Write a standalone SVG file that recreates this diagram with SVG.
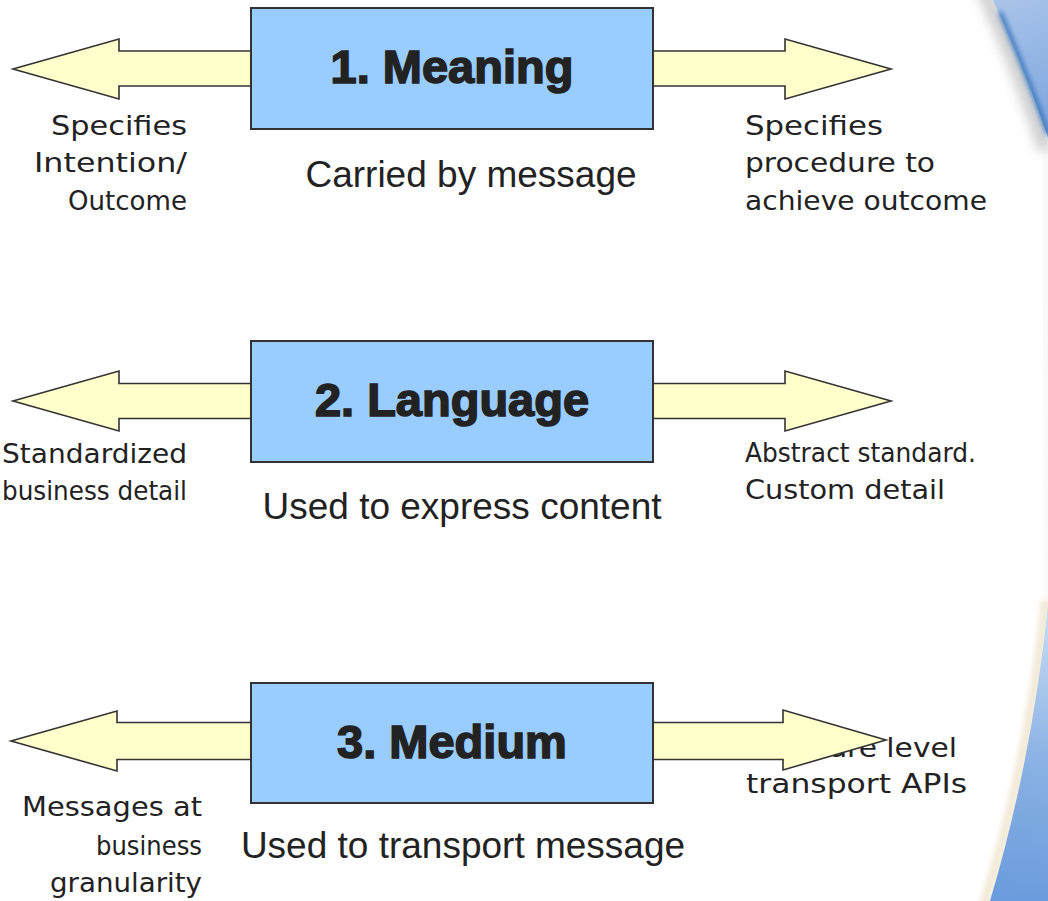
<svg xmlns="http://www.w3.org/2000/svg" width="1048" height="901" viewBox="0 0 1048 901">
  <defs>
    <style>
      .box { fill: #99CCFF; stroke: #333333; stroke-width: 2; }
      .arrow { fill: #FFFFCC; stroke: #333333; stroke-width: 1.6; stroke-linejoin: miter; }
      .title { font-family: "Liberation Sans", Arial, sans-serif; font-weight: bold; font-size: 47px; fill: #222222; stroke: #222222; stroke-width: 1.6; text-anchor: middle; }
      .sub { font-family: "Liberation Sans", Arial, sans-serif; font-size: 37px; fill: #222222; text-anchor: middle; }
      .note { font-family: "Comic Sans MS", "DejaVu Sans", sans-serif; font-size: 27px; fill: #222222; }
      .r { text-anchor: end; }
    </style>
    <linearGradient id="topBlue" x1="995" y1="0" x2="1048" y2="140" gradientUnits="userSpaceOnUse">
      <stop offset="0" stop-color="#a9c4ea"/>
      <stop offset="1" stop-color="#7aa3dc"/>
    </linearGradient>
    <linearGradient id="bottomBlue" x1="1040" y1="620" x2="1010" y2="901" gradientUnits="userSpaceOnUse">
      <stop offset="0" stop-color="#c4d9f2"/>
      <stop offset="0.5" stop-color="#8ab2e4"/>
      <stop offset="1" stop-color="#6a9bdc"/>
    </linearGradient>
    <filter id="soft" x="-50%" y="-50%" width="200%" height="200%">
      <feGaussianBlur stdDeviation="6"/>
    </filter>
    <filter id="softer" x="-50%" y="-50%" width="200%" height="200%">
      <feGaussianBlur stdDeviation="2.5"/>
    </filter>
  </defs>

  <rect width="1048" height="901" fill="#ffffff"/>

  <!-- right-hand swoosh of the slide background -->
  <g id="backdrop">
    <path d="M 984,-10 Q 1020,70 1046,150" fill="none" stroke="#8a8a8a" stroke-width="14" opacity="0.45" filter="url(#soft)"/>
    <path d="M 1046,150 L 1052,600" fill="none" stroke="#bbbbbb" stroke-width="6" opacity="0.25" filter="url(#soft)"/>
    <path d="M 993,0 Q 1027,75 1048,138 L 1048,0 Z" fill="url(#topBlue)"/>
    <path d="M 1000,12 Q 1028,78 1048,134" fill="none" stroke="#2f6db5" stroke-width="4" filter="url(#softer)"/>
    <path d="M 1046,600 Q 1030,760 984,905" fill="none" stroke="#f3ead8" stroke-width="10" filter="url(#softer)"/>
    <path d="M 1048,605 Q 1032,760 990,901 L 1048,901 Z" fill="url(#bottomBlue)"/>
  </g>

  <!-- text partly covered by the arrow of node 3 -->
  <text class="note" x="746" y="757" textLength="211" lengthAdjust="spacingAndGlyphs">Software level</text>

  <g id="connectors">
    <!-- node 1 -->
    <path class="arrow" d="M 255,51 L 119,51 L 119,39 L 13,69 L 119,99 L 119,86 L 255,86 Z"/>
    <path class="arrow" d="M 649,51 L 785,51 L 785,39 L 891,69 L 785,99 L 785,86 L 649,86 Z"/>
    <!-- node 2 -->
    <path class="arrow" d="M 255,383.5 L 119,383.5 L 119,371 L 13,401 L 119,431 L 119,418.5 L 255,418.5 Z"/>
    <path class="arrow" d="M 649,383.5 L 785,383.5 L 785,371 L 891,401 L 785,431 L 785,418.5 L 649,418.5 Z"/>
    <!-- node 3 -->
    <path class="arrow" d="M 255,722.5 L 117,722.5 L 117,711 L 11,741 L 117,771 L 117,759.5 L 255,759.5 Z"/>
    <path class="arrow" d="M 649,722.5 L 783,722.5 L 783,710 L 886,740 L 783,770 L 783,759.5 L 649,759.5 Z"/>
  </g>

  <g id="meaning">
    <rect class="box" x="251" y="8" width="402" height="121"/>
    <text class="title" x="452" y="83">1. Meaning</text>
    <text class="sub" x="471" y="187">Carried by message</text>
    <text class="note r" x="187" y="135" textLength="136" lengthAdjust="spacingAndGlyphs">Specifies</text>
    <text class="note r" x="187" y="172" textLength="153" lengthAdjust="spacingAndGlyphs">Intention/</text>
    <text class="note r" x="187" y="210" textLength="119" lengthAdjust="spacingAndGlyphs">Outcome</text>
    <text class="note" x="745" y="135" textLength="138" lengthAdjust="spacingAndGlyphs">Specifies</text>
    <text class="note" x="745" y="172" textLength="190" lengthAdjust="spacingAndGlyphs">procedure to</text>
    <text class="note" x="745" y="210" textLength="242" lengthAdjust="spacingAndGlyphs">achieve outcome</text>
  </g>

  <g id="language">
    <rect class="box" x="251" y="341" width="402" height="121"/>
    <text class="title" x="452" y="416">2. Language</text>
    <text class="sub" x="462" y="519">Used to express content</text>
    <text class="note r" x="187" y="463" textLength="185" lengthAdjust="spacingAndGlyphs">Standardized</text>
    <text class="note r" x="187" y="500" textLength="185" lengthAdjust="spacingAndGlyphs">business detail</text>
    <text class="note" x="745" y="462" textLength="231" lengthAdjust="spacingAndGlyphs">Abstract standard.</text>
    <text class="note" x="745" y="499" textLength="200" lengthAdjust="spacingAndGlyphs">Custom detail</text>
  </g>

  <g id="medium">
    <rect class="box" x="251" y="683" width="402" height="120"/>
    <text class="title" x="452" y="758">3. Medium</text>
    <text class="sub" x="463" y="858">Used to transport message</text>
    <text class="note r" x="202" y="816" textLength="180" lengthAdjust="spacingAndGlyphs">Messages at</text>
    <text class="note r" x="202" y="855" textLength="106" lengthAdjust="spacingAndGlyphs">business</text>
    <text class="note r" x="202" y="892" textLength="152" lengthAdjust="spacingAndGlyphs">granularity</text>
    <text class="note" x="746" y="793" textLength="221" lengthAdjust="spacingAndGlyphs">transport APIs</text>
  </g>
</svg>
